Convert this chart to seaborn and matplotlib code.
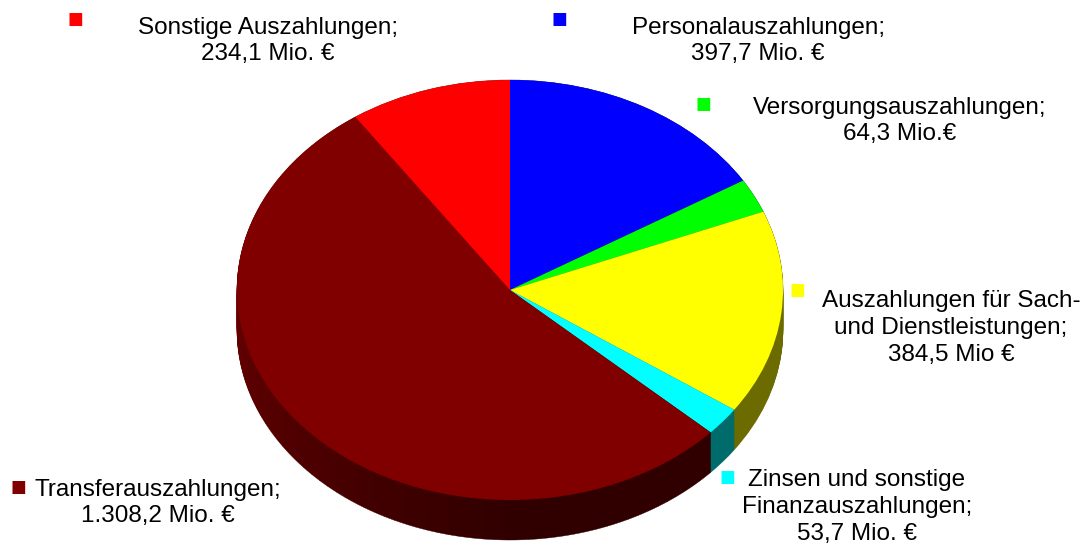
import numpy as np
import matplotlib.pyplot as plt
import seaborn as sns

# data, clockwise from 12 o'clock
names = ["Personalauszahlungen", "Versorgungsauszahlungen", "Sach- und Dienstleistungen",
         "Zinsen und sonstige Finanzauszahlungen", "Transferauszahlungen", "Sonstige Auszahlungen"]
values = [397.7, 64.3, 384.5, 53.7, 1308.2, 234.1]
top_colors = ["#0000ff", "#00ff00", "#ffff00", "#00ffff", "#800000", "#ff0000"]
side_colors = ["#000080", "#006b00", "#6b6b00", "#006b6b", "#400000", "#800000"]

labels = [
    "Personalauszahlungen;\n397,7 Mio. €",
    "Versorgungsauszahlungen;\n64,3 Mio.€",
    "Auszahlungen für Sach-\nund Dienstleistungen;\n384,5 Mio €",
    "Zinsen und sonstige\nFinanzauszahlungen;\n53,7 Mio. €",
    "Transferauszahlungen;\n1.308,2 Mio. €",
    "Sonstige Auszahlungen;\n234,1 Mio. €",
]
# text centre and legend square, in pixels from top-left
label_pos = [(758, 41), (900, 121), (951, 328), (857, 507), (158, 503), (268, 41)]
square_pos = [(559, 19), (703, 104), (797, 290), (727, 477), (18, 487), (75, 19)]

sns.set_style("white")
plt.rcParams['font.family'] = ['Liberation Sans', 'DejaVu Sans']

W, H = 1088, 547
fig = plt.figure(figsize=(W / 100, H / 100), dpi=100)
ax = fig.add_axes([0, 0, 1, 1])

cx, cy = 510, 290      # pie centre in px
rx, ry = 273, 210      # ellipse radii in px
depth = 40 / ry

# side: split the big maroon slice into pieces so its wall can be shaded
total = sum(values)
n_split = 80
side_vals, side_cols = [], []
start = 0.0
for v, c in zip(values, side_colors):
    if c == "#400000":
        for k in range(n_split):
            frac = (start + v * (k + 0.5) / n_split) / total
            ang = 90 - 360 * frac          # standard angle, degrees
            # dark at the front, lighter toward the left
            s = np.clip((-90 - ang) / 90, 0, 1)
            r = 0.19 + (0.40 - 0.19) * s
            side_vals.append(v / n_split)
            side_cols.append((r, 0, 0))
    else:
        side_vals.append(v)
        side_cols.append(c)
    start += v

for t in np.linspace(depth, 0, 41):
    wedges, _ = ax.pie(side_vals, colors=side_cols, startangle=90, counterclock=False,
                       center=(0, -t), radius=1, frame=True,
                       wedgeprops=dict(linewidth=0.3))
    for w in wedges:
        w.set_edgecolor(w.get_facecolor())
ax.pie(values, colors=top_colors, startangle=90, counterclock=False,
       center=(0, 0), radius=1, frame=True, wedgeprops=dict(linewidth=0))

ax.set_aspect('auto')
ax.set_xlim(-cx / rx, (W - cx) / rx)
ax.set_ylim(-(H - cy) / ry, cy / ry)
ax.axis('off')

for lab, (x, y), (sx, sy), c in zip(labels, label_pos, square_pos, top_colors):
    fig.text(x / W, 1 - y / H, lab, ha='center', va='center', fontsize=17.5,
             linespacing=1.29, color='black')
    fig.text(sx / W, 1 - sy / H, "■", ha='center', va='center', fontsize=12,
             color=c, family='DejaVu Sans')

fig.savefig("out.png", dpi=100)
